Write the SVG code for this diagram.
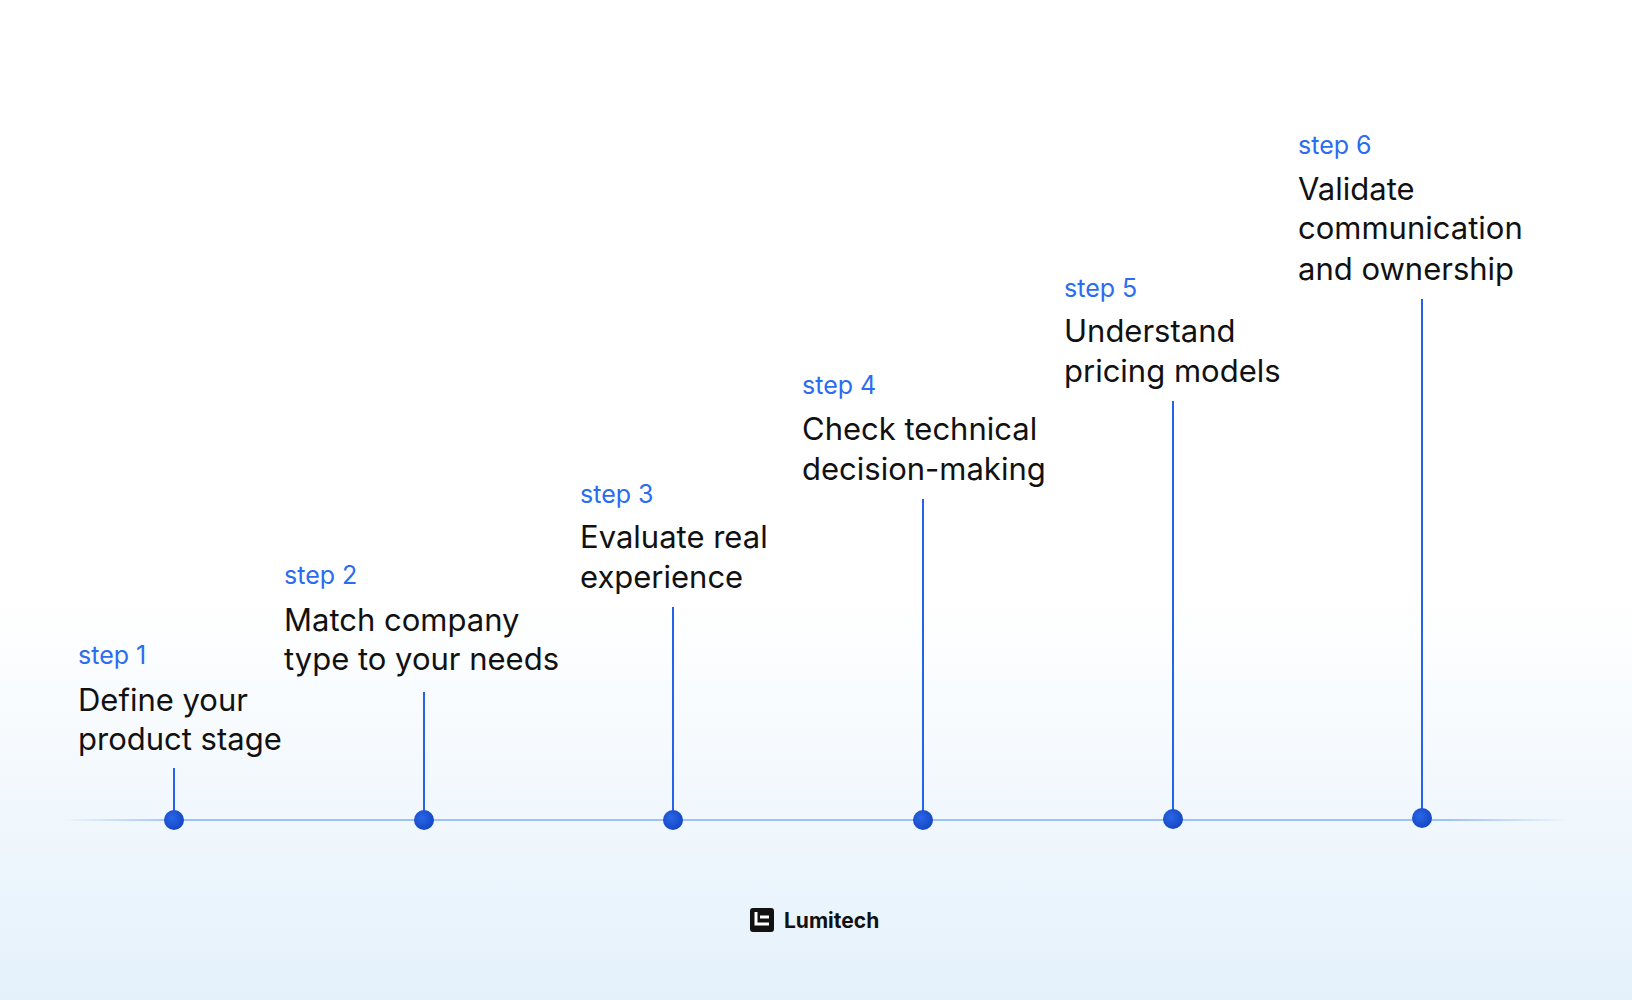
<svg xmlns="http://www.w3.org/2000/svg" width="1632" height="1000" viewBox="0 0 1632 1000">
<defs>
<linearGradient id="bg" x1="0" y1="0" x2="0" y2="1">
<stop offset="0" stop-color="#ffffff"/><stop offset="0.6" stop-color="#ffffff"/><stop offset="1" stop-color="#e4f1fb"/>
</linearGradient>
<linearGradient id="ln" gradientUnits="userSpaceOnUse" x1="60" y1="0" x2="1570" y2="0">
<stop offset="0" stop-color="#9fc2f5" stop-opacity="0"/><stop offset="0.08" stop-color="#9fc2f5"/><stop offset="0.92" stop-color="#9fc2f5"/><stop offset="1" stop-color="#9fc2f5" stop-opacity="0"/>
</linearGradient>
<radialGradient id="dot" cx="0.4" cy="0.4" r="0.6"><stop offset="0" stop-color="#2a66e8"/><stop offset="1" stop-color="#1548c4"/></radialGradient>
</defs>
<style>
.s{font-family:Inter,"Liberation Sans",sans-serif;font-size:25px;fill:#2b6cf0}
.t{font-family:Inter,"Liberation Sans",sans-serif;font-size:31px;fill:#111}
.stem{stroke:#2563eb;stroke-width:2}
.d{fill:url(#dot)}
</style>
<rect width="1632" height="1000" fill="url(#bg)"/>
<g id="connectors">
<rect x="60" y="819" width="1510" height="2" fill="url(#ln)"/>
<line class="stem" x1="174" y1="768" x2="174" y2="819"/>
<line class="stem" x1="424" y1="692" x2="424" y2="819"/>
<line class="stem" x1="673" y1="607" x2="673" y2="819"/>
<line class="stem" x1="923" y1="499" x2="923" y2="819"/>
<line class="stem" x1="1173" y1="401" x2="1173" y2="819"/>
<line class="stem" x1="1422" y1="299" x2="1422" y2="818"/>
</g>
<g id="step1"><circle class="d" cx="174" cy="820" r="10"/><text class="s" x="78" y="664">step 1</text><text class="t" x="78" y="711">Define your</text><text class="t" x="78" y="750">product stage</text></g>
<g id="step2"><circle class="d" cx="424" cy="820" r="10"/><text class="s" x="284" y="584">step 2</text><text class="t" x="284" y="631">Match company</text><text class="t" x="284" y="670">type to your needs</text></g>
<g id="step3"><circle class="d" cx="673" cy="820" r="10"/><text class="s" x="580" y="503">step 3</text><text class="t" x="580" y="548">Evaluate real</text><text class="t" x="580" y="588">experience</text></g>
<g id="step4"><circle class="d" cx="923" cy="820" r="10"/><text class="s" x="802" y="394">step 4</text><text class="t" x="802" y="440">Check technical</text><text class="t" x="802" y="480">decision-making</text></g>
<g id="step5"><circle class="d" cx="1173" cy="819" r="10"/><text class="s" x="1064" y="297">step 5</text><text class="t" x="1064" y="342">Understand</text><text class="t" x="1064" y="382">pricing models</text></g>
<g id="step6"><circle class="d" cx="1422" cy="818" r="10"/><text class="s" x="1298" y="154">step 6</text><text class="t" x="1298" y="200">Validate</text><text class="t" x="1298" y="239">communication</text><text class="t" x="1298" y="280">and ownership</text></g>
<g id="logo">
<rect x="750" y="908" width="24" height="24" rx="3" fill="#111"/>
<path d="M756 912 v12 h13 M760 917 h9" stroke="#fff" stroke-width="3" fill="none"/>
<text x="784" y="928" font-family="Inter,'Liberation Sans',sans-serif" font-size="21" font-weight="700" fill="#111">Lumitech</text>
</g>
</svg>
